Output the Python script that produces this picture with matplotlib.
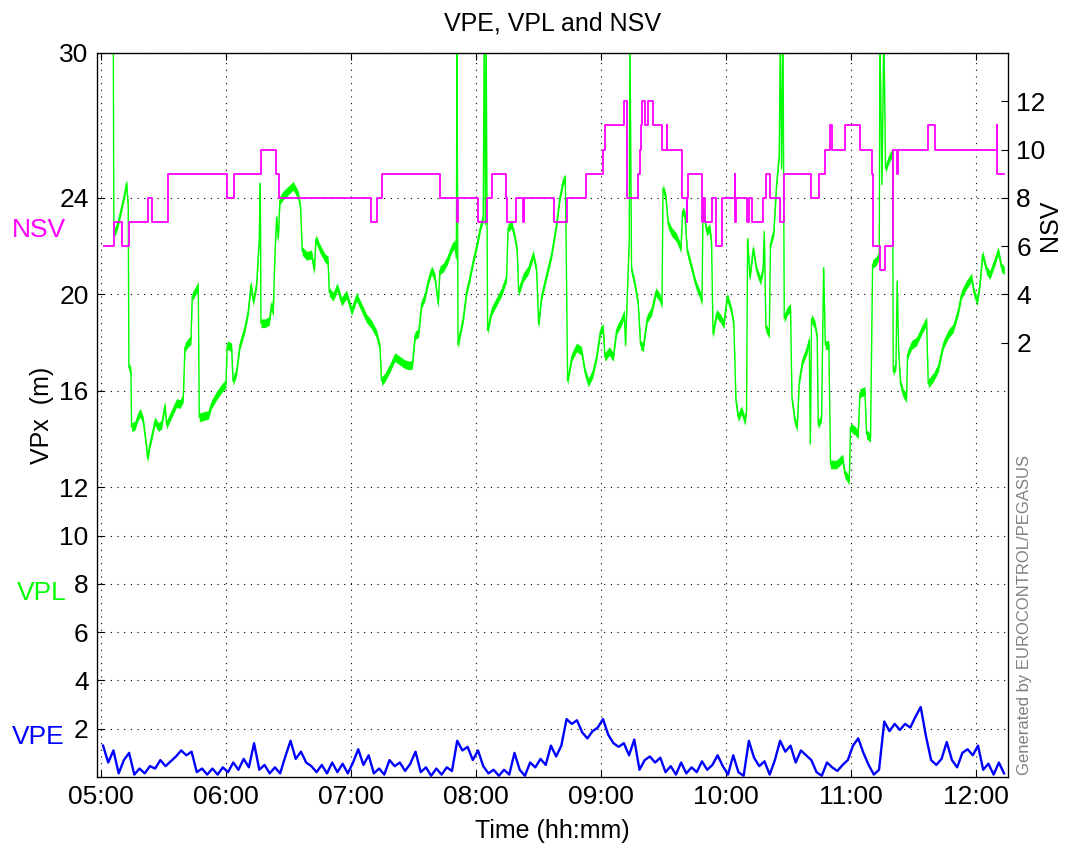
import numpy as np
import matplotlib
matplotlib.use("Agg")
import matplotlib.pyplot as plt

plt.rcParams["font.family"] = ["Liberation Sans", "DejaVu Sans"]

# ---- data (times in minutes after 05:00) ----
START_H = 5.0
HOUR_TICKS = [5, 6, 7, 8, 9, 10, 11, 12]
HOUR_LABELS = ["05:00", "06:00", "07:00", "08:00", "09:00", "10:00", "11:00", "12:00"]
VPX_TICKS = [2, 4, 6, 8, 10, 12, 16, 20, 24, 30]
NSV_TICKS = [2, 4, 6, 8, 10, 12]

VPL_MIN = [5.9, 6.2, 6.4, 7.5, 8.6, 9.9, 11.2, 12.3, 13.1, 13.4, 14.4, 14.7, 16.3, 17.6, 18.9,
           20.3, 21.1, 21.9, 22.4, 23.5, 24.6, 25.9, 27.5, 29.1, 30.7, 31.5, 33.1, 34.7, 36.3,
           37.9, 39.5, 40.3, 41.9, 43.2, 43.8, 45.1, 46.7, 47.2, 49.1, 51.5, 53.1, 55.5, 57.9,
           60.0, 60.6, 62.7, 63.4, 65.1, 66.7, 69.1, 70.7, 72.0, 73.1, 74.7, 76.0, 76.5, 76.8,
           78.7, 80.8, 81.9, 82.7, 83.5, 84.3, 85.1, 85.9, 87.5, 89.9, 92.3, 94.7, 95.8, 96.6,
           98.7, 101.1, 102.4, 103.2, 105.1, 107.5, 109.0, 109.6, 111.5, 113.4, 115.5, 117.9,
           120.3, 122.7, 125.1, 127.5, 129.9, 132.3, 133.9, 134.7, 136.3, 138.7, 141.1, 143.5,
           145.9, 148.3, 149.5, 150.8, 152.5, 153.9, 155.5, 157.1, 158.7, 160.3, 161.9, 162.7,
           164.3, 166.2, 168.3, 169.9, 170.6, 170.9, 171.4, 172.3, 173.9, 175.5, 177.1, 179.0,
           180.6, 182.2, 183.5, 184.0, 184.5, 184.9, 185.6, 187.5, 189.9, 192.3, 194.7, 195.4,
           197.1, 198.7, 199.8, 200.5, 202.7, 205.1, 207.5, 209.1, 210.1, 211.5, 213.9, 216.3,
           218.7, 220.3, 221.9, 222.9, 223.4, 224.0, 226.0, 228.3, 230.7, 232.3, 233.9, 236.0,
           237.9, 239.8, 241.1, 241.9, 244.0, 245.9, 247.5, 249.9, 251.2, 251.8, 252.6, 253.6,
           253.9, 254.7, 256.3, 257.9, 259.0, 260.3, 262.2, 264.3, 266.4, 268.0, 269.3, 269.8,
           271.2, 272.3, 273.9, 276.3, 278.4, 279.2, 280.3, 281.4, 283.5, 285.6, 287.5, 288.5,
           289.0, 290.7, 292.3, 293.1, 293.8, 295.5, 297.4, 299.0, 300.6, 302.7, 303.8, 304.8,
           305.9, 307.5, 309.1, 309.9, 310.4, 311.5, 313.1, 314.7, 316.6, 317.9, 318.4, 319.2,
           320.8, 321.4, 323.0, 324.3, 325.6, 326.1, 326.7, 327.4, 328.0, 329.4, 331.0, 331.7,
           333.1, 334.2, 335.2, 336.8, 338.7, 340.0, 340.5, 341.1, 342.7, 343.8, 344.3, 345.9,
           346.9, 347.7, 349.4, 350.2, 353.1, 356.0, 357.1, 359.2, 359.8, 361.9, 363.5, 364.3,
           366.7, 367.5, 369.4, 370.4, 372.3, 373.6, 373.9, 374.9, 375.8, 376.6, 378.4, 380.0,
           380.3, 381.6, 382.2, 382.9, 383.8, 385.1, 386.7, 387.2, 389.1, 391.5, 393.9, 396.3,
           397.1, 399.5, 401.9, 404.3, 406.7, 409.1, 411.5, 413.1, 415.5, 417.9, 419.0, 420.6,
           421.9, 423.2, 425.1, 426.7, 428.6, 430.7, 432.3, 433.6]
VPL_M = [31.0, 22.5, 22.55, 22.76, 23.1, 23.6, 24.1, 24.6, 23.6, 17.0, 16.8, 14.5, 14.55, 14.9, 15.1,
         14.75, 14.2, 13.65, 13.2, 13.8, 14.2, 14.75, 14.5, 14.6, 15.4, 14.6, 14.9, 15.2, 15.5,
         15.45, 15.7, 17.8, 18.0, 18.1, 19.9, 20.1, 20.35, 14.9, 14.95, 15.0, 15.45, 15.8, 16.1,
         16.3, 17.9, 17.8, 16.4, 16.8, 17.9, 18.6, 19.3, 20.4, 19.7, 20.4, 22.3, 24.6, 18.8,
         18.8, 18.9, 19.6, 19.2, 21.65, 23.2, 22.3, 23.9, 24.1, 24.3, 24.5, 24.1, 23.6, 21.8,
         21.6, 21.65, 21.0, 22.3, 21.9, 21.5, 21.4, 20.1, 19.9, 20.3, 19.7, 20.0,
         19.3, 19.9, 19.45, 19.0, 18.75, 18.35, 17.8, 16.4, 16.55, 16.95, 17.4, 17.25,
         17.1, 17.05, 17.1, 18.3, 18.4, 19.6, 19.9, 20.55, 21.0, 20.7, 19.6, 21.0,
         21.1, 21.4, 21.9, 22.1, 21.5, 31.0, 17.9, 18.35, 19.0, 20.1, 20.7, 21.5,
         22.1, 22.8, 23.2, 31.0, 22.9, 31.0, 18.5, 19.3, 19.7, 20.1, 20.7, 22.75,
         22.9, 22.35, 21.8, 20.1, 20.7, 21.0, 21.65, 21.0, 18.75, 19.9, 20.8, 21.65,
         22.9, 24.0, 24.7, 24.8, 21.25, 16.4, 17.4, 17.8, 17.65, 16.8, 16.35, 16.7,
         17.4, 18.5, 18.6, 17.4, 17.65, 17.4, 18.5, 18.9, 19.2, 17.9, 19.9, 22.3,
         31.0, 21.0, 20.4, 19.6, 17.9, 17.8, 19.0, 19.3, 20.1, 19.9, 19.6, 24.4,
         24.0, 22.9, 22.6, 22.35, 21.9, 23.45, 23.3, 21.8, 21.1, 20.4, 20.0, 19.7,
         23.6, 22.6, 22.75, 22.1, 18.35, 19.2, 19.0, 18.75, 19.9, 19.3, 18.75, 15.6,
         14.9, 15.2, 14.75, 15.2, 22.3, 20.7, 21.9, 21.0, 20.55, 21.1, 22.6, 18.6,
         18.35, 22.1, 22.6, 24.55, 25.8, 31.0, 25.2, 31.0, 19.0, 19.3, 19.45, 15.7,
         14.75, 14.5, 16.4, 17.25, 17.65, 18.1, 13.8, 19.0, 18.75, 18.2, 14.6, 14.9,
         21.1, 17.9, 17.9, 12.95, 12.95, 13.2, 12.55, 12.3, 14.5, 14.35, 14.2, 15.9,
         16.0, 14.2, 14.05, 21.25, 21.4, 21.65, 31.0, 24.55, 31.0, 25.2, 25.65, 25.9,
         16.8, 17.05, 20.55, 17.65, 16.3, 15.9, 15.7, 17.5, 17.9, 18.05, 18.5, 18.9,
         16.3, 16.55, 16.95, 17.9, 18.35, 18.6, 19.3, 20.0, 20.4, 20.7, 20.1, 19.7,
         20.4, 21.65, 21.0, 20.8, 21.25, 21.8, 21.1, 21.0]

NSV_MIN = [1.6, 6.4, 9.9, 13.4, 22.4, 24.6, 32.0, 60.3, 63.7, 76.8, 83.9, 85.6, 129.4, 132.3,
           135.0, 162.7, 170.8, 171.4, 180.8, 185.1, 187.5, 194.2, 195.1, 199.2, 202.8, 203.3,
           217.6, 223.5, 232.6, 240.8, 241.9, 251.2, 252.6, 257.9, 258.6, 259.0, 259.5, 261.0,
           262.4, 264.8, 269.1, 271.5, 271.8, 278.7, 281.1, 281.4, 281.9, 288.6, 289.1, 289.9,
           293.4, 295.0, 298.2, 304.2, 304.4, 304.6, 309.9, 311.2, 312.5, 317.9, 319.0, 321.1,
           325.9, 327.8, 340.8, 344.6, 347.4, 349.9, 350.9, 357.0, 364.3, 369.9, 370.4, 373.9,
           376.3, 380.3, 382.2, 382.5, 397.1, 400.5, 429.9, 430.2, 433.4]
NSV = [6, 7, 6, 7, 8, 7, 9, 8, 9, 10, 9, 8, 7, 8,
       9, 8, 7, 8, 7, 8, 9, 8, 7, 8, 7, 8,
       7, 8, 9, 10, 11, 12, 8, 9, 10, 11, 12, 11,
       12, 11, 10, 11, 10, 8, 7, 8, 9, 7, 8, 7,
       8, 6, 8, 9, 7, 8, 7, 8, 7, 8, 9, 8,
       7, 9, 8, 9, 10, 11, 10, 11, 10, 9, 6, 5,
       6, 10, 9, 10, 11, 10, 11, 9, 9]

# VPE sampled every 2.5 min starting at 05:01
VPE_T0, VPE_STEP = 1.0, 2.5
VPE_M = [1.3, 0.6, 1.1, 0.15, 0.7, 1.0, 0.1, 0.35, 0.15, 0.45,
         0.35, 0.7, 0.45, 0.65, 0.85, 1.1, 0.9, 1.05, 0.2, 0.35,
         0.1, 0.35, 0.1, 0.4, 0.2, 0.6, 0.3, 0.75, 0.4, 1.4,
         0.3, 0.5, 0.15, 0.4, 0.15, 0.85, 1.5, 0.75, 1.05, 0.6,
         0.45, 0.2, 0.5, 0.15, 0.6, 0.2, 0.55, 0.15, 0.6, 1.15,
         0.5, 0.9, 0.15, 0.35, 0.1, 0.7, 0.45,
         0.6, 0.25, 0.55, 1.05, 0.2, 0.4, 0.05, 0.35, 0.1, 0.4,
         0.25, 1.5, 1.1, 1.25, 0.7, 1.1, 0.45, 0.15, 0.3, 0.05,
         0.3, 0.1, 1.0, 0.3, 0.05, 0.6, 0.4, 0.75, 0.5, 1.3,
         0.85, 1.3, 2.4, 2.2, 2.35, 1.85, 1.6, 1.9, 2.05, 2.4,
         1.75, 1.4, 1.25, 1.4, 0.9, 1.55, 0.3, 0.7, 0.85, 0.6,
         0.8, 0.2, 0.45, 0.1, 0.6, 0.15, 0.4, 0.2, 0.65,
         0.3, 0.5, 0.9, 0.45, 0.1, 0.9, 0.2, 0.05, 1.5, 0.8,
         0.45, 0.65, 0.1, 0.7, 1.5, 1.05, 1.3, 0.6, 1.1, 0.9,
         0.7, 0.2, 0.05, 0.6, 0.4, 0.25, 0.5, 0.7, 1.3, 1.6,
         1.0, 0.5, 0.1, 0.3, 2.3, 1.9, 2.2, 1.95, 2.2, 2.05,
         2.5, 2.9, 1.7, 0.7, 0.5, 0.75, 1.45, 0.7, 0.4, 1.0,
         1.15, 0.9, 1.3, 0.3, 0.55, 0.1, 0.6, 0.15]


def hrs(mins):
    return START_H + np.asarray(mins, dtype=float) / 60.0


GREEN, MAGENTA, BLUE = "#00FF00", "#FF00FF", "#0000FF"
W, H = 1073, 850

fig = plt.figure(figsize=(W / 100, H / 100), dpi=100)
ax = fig.add_axes([97 / W, 1 - 777 / H, (1008 - 97) / W, (777 - 53) / H])

# VPL: noisy trace drawn as a thin band around the read-off values
t_vpl = hrs(VPL_MIN); v_vpl = np.asarray(VPL_M)
ax.fill_between(t_vpl, v_vpl - 0.18, v_vpl + 0.18, color=GREEN, lw=0, zorder=2)
ax.plot(t_vpl, v_vpl, color=GREEN, lw=1.0, zorder=2)

t_vpe = hrs(VPE_T0 + VPE_STEP * np.arange(len(VPE_M)))
ax.plot(t_vpe, VPE_M, color=BLUE, lw=1.7, zorder=3)

ax.set_xlim(hrs(-1.9), hrs(435.4))
ax.set_ylim(0, 30)
ax.set_xticks(HOUR_TICKS)
ax.set_xticklabels(HOUR_LABELS)
ax.set_yticks(VPX_TICKS)
ax.grid(True, ls=(0, (1, 5)), color="k", lw=0.8)
ax.tick_params(direction="in", length=5, width=0.8, top=True, right=True, labelsize=19, pad=6)
for s in ax.spines.values():
    s.set_linewidth(0.9)
ax.set_xlabel("Time (hh:mm)", fontsize=18, labelpad=7)
ax.set_ylabel("VPx  (m)", fontsize=18, labelpad=4)
ax.set_title("VPE, VPL and NSV", fontsize=18, pad=16)

ax2 = ax.twinx()
ax2.step(hrs(NSV_MIN), NSV, where="post", color=MAGENTA, lw=1.3)
ax2.set_ylim(-16, 14)
ax2.set_yticks(NSV_TICKS)
ax2.tick_params(direction="in", length=5, width=0.8, labelsize=19, pad=6)
ax2.set_ylabel("NSV", fontsize=18)
ax2.yaxis.set_label_coords(1.033, (777 - 225) / (777 - 53))

fig.text(12 / W, 1 - 230 / H, "NSV", color=MAGENTA, fontsize=19, ha="left", va="center")
fig.text(17 / W, 1 - 593 / H, "VPL", color=GREEN, fontsize=19, ha="left", va="center")
fig.text(12 / W, 1 - 737 / H, "VPE", color=BLUE, fontsize=19, ha="left", va="center")
fig.text(1025 / W, 1 - 775 / H, "Generated by EUROCONTROL/PEGASUS", color="#808080",
         fontsize=12, rotation=90, ha="center", va="bottom")

fig.savefig("out.png", dpi=100)
